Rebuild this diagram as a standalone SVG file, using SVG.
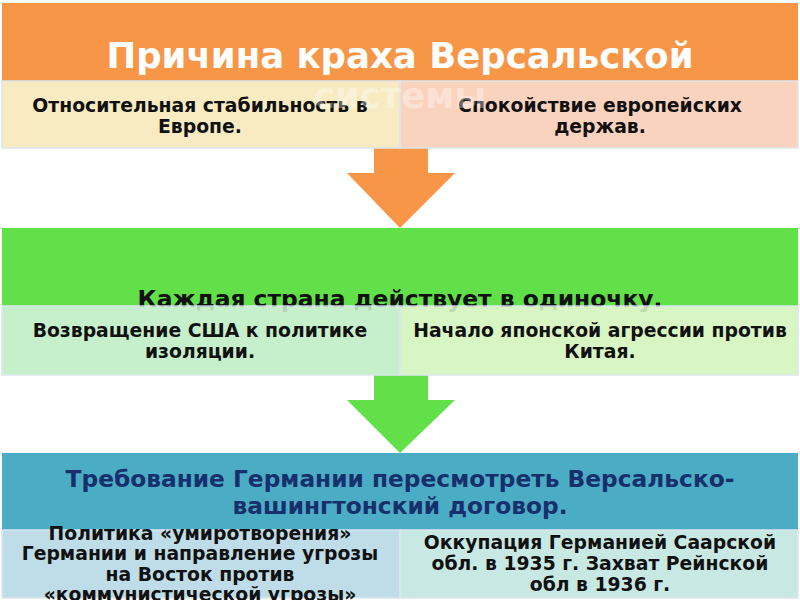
<svg xmlns="http://www.w3.org/2000/svg" width="800" height="600" viewBox="0 0 800 600">
<style>
.hdr{font-family:"DejaVu Sans",sans-serif;font-weight:bold;text-anchor:middle}
.bx{font-family:"DejaVu Sans",sans-serif;font-weight:bold;font-size:18.8px;fill:#111;text-anchor:middle}
.cell{stroke:#DCE6EE;stroke-width:1.5}
</style>
<rect width="800" height="600" fill="#ffffff"/>
<g id="connectors">
<polygon points="374,148 428,148 428,173 455,173 400,228 347,173 374,173" fill="#F79646"/>
<polygon points="374,375 428,375 428,400 455,400 400,453 347,400 374,400" fill="#62E04A"/>
</g>
<g id="header1">
<rect x="2" y="3" width="796" height="78" fill="#F79646"/>
<text class="hdr" x="400" y="68" font-size="35.5" fill="#ffffff">Причина краха Версальской</text>
<text class="hdr" x="400" y="108" font-size="35.5" fill="#ffffff">системы</text>
</g>
<g id="box1a">
<rect class="cell" x="2" y="81" width="398" height="67" fill="#F8EBC2"/>
<text class="bx" x="200" y="112">Относительная стабильность в</text>
<text class="bx" x="200" y="133">Европе.</text>
</g>
<g id="box1b">
<rect class="cell" x="400" y="81" width="398" height="67" fill="#FAD3BE"/>
<text class="bx" x="600" y="112">Спокойствие европейских</text>
<text class="bx" x="600" y="133">держав.</text>
</g>
<text class="hdr" x="400" y="108" font-size="35.5" fill="#ffffff" opacity="0.35">системы</text>
<g id="header2">
<rect x="2" y="228" width="796" height="78" fill="#62E04A"/>
<text class="hdr" x="400" y="307" font-size="23.4" fill="#111">Каждая страна действует в одиночку.</text>
</g>
<g id="box2a">
<rect class="cell" x="2" y="306" width="398" height="69" fill="#C6EFCB"/>
<text class="bx" x="200" y="337">Возвращение США к политике</text>
<text class="bx" x="200" y="358">изоляции.</text>
</g>
<g id="box2b">
<rect class="cell" x="400" y="306" width="398" height="69" fill="#D8F5C4"/>
<text class="bx" x="600" y="337">Начало японской агрессии против</text>
<text class="bx" x="600" y="358">Китая.</text>
</g>
<text class="hdr" x="400" y="307" font-size="23.4" fill="#111" opacity="0.12">Каждая страна действует в одиночку.</text>
<g id="header3">
<rect x="2" y="453" width="796" height="77" fill="#4BACC6"/>
<text class="hdr" x="400" y="487" font-size="23.3" fill="#17306B">Требование Германии пересмотреть Версальско-</text>
<text class="hdr" x="400" y="514" font-size="23.3" fill="#17306B">вашингтонский договор.</text>
</g>
<g id="box3a">
<rect class="cell" x="2" y="530" width="398" height="68" fill="#BFDDE8"/>
<text class="bx" x="200" y="540">Политика «умиротворения»</text>
<text class="bx" x="200" y="560">Германии и направление угрозы</text>
<text class="bx" x="200" y="581">на Восток против</text>
<text class="bx" x="200" y="601">«коммунистической угрозы»</text>
</g>
<g id="box3b">
<rect class="cell" x="400" y="530" width="398" height="68" fill="#C8E8E4"/>
<text class="bx" x="600" y="549">Оккупация Германией Саарской</text>
<text class="bx" x="600" y="570">обл. в 1935 г. Захват Рейнской</text>
<text class="bx" x="600" y="591">обл в 1936 г.</text>
</g>
</svg>
